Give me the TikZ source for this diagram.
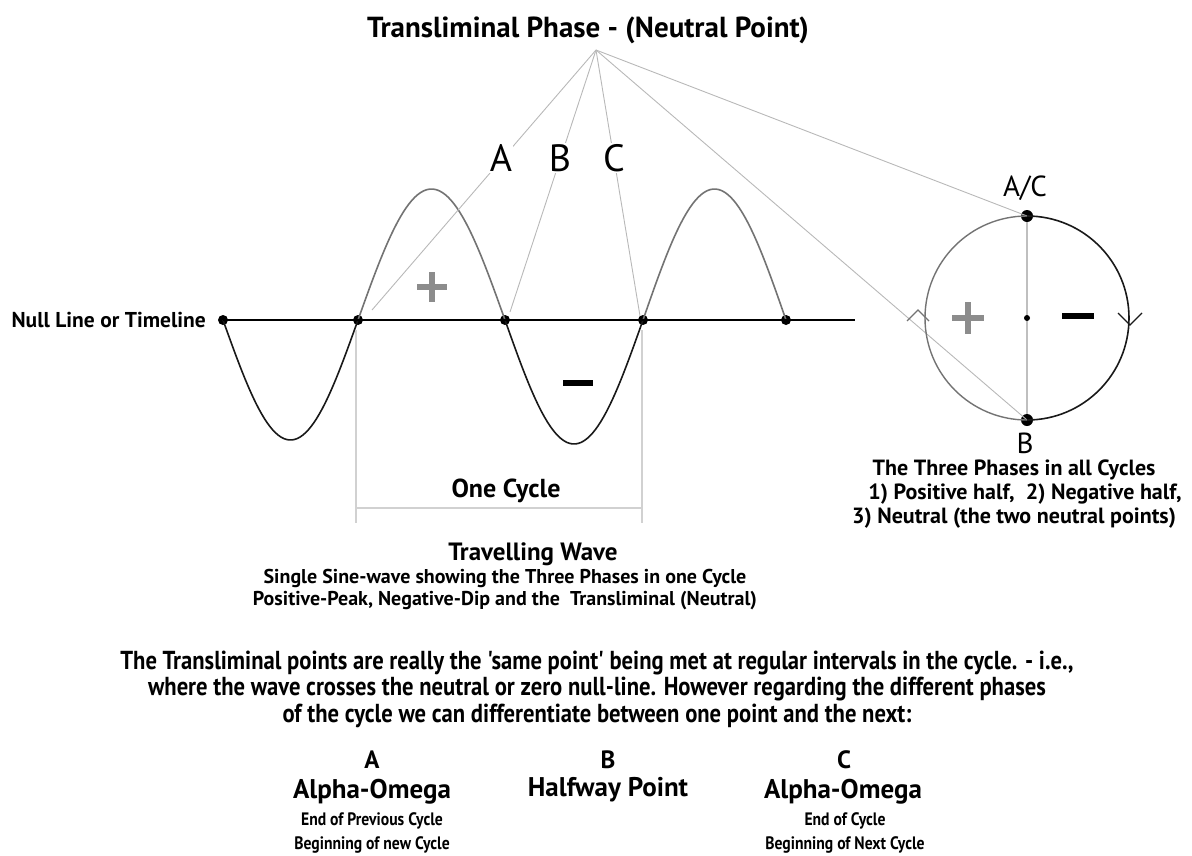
\documentclass[tikz,border=0pt]{standalone}
\usepackage{fontspec}
\setmainfont{PT Sans}
\newfontfamily\condfont[FakeStretch=0.87]{PT Sans}
\begin{document}
\begin{tikzpicture}[x=1pt,y=-1pt,
  dot/.style={circle,fill=black,inner sep=0pt,minimum size=10pt},
  bigdot/.style={circle,fill=black,inner sep=0pt,minimum size=12pt},
  ray/.style={draw=black!28,line width=0.9pt},
  posw/.style={draw=black!55,line width=1.6pt},
  negw/.style={draw=black!90,line width=1.6pt},
  letter/.style={font=\fontsize{38}{42}\selectfont,fill=white,inner sep=1pt},
  capt/.style={font=\fontsize{22}{24}\selectfont\bfseries,align=center},
  subcapt/.style={font=\fontsize{20}{24}\selectfont\bfseries,align=center},
  plusmark/.style={draw=black!45,line width=6pt},
  minusmark/.style={draw=black,line width=6pt},
  bracket/.style={draw=black!18,line width=1.4pt}]
\useasboundingbox (0,0) rectangle (1192,855);

% title
\node[font=\fontsize{29}{34}\selectfont\bfseries] (title) at (588,30) {Transliminal Phase - (Neutral Point)};
\coordinate (apex) at (596,50);

% null line
\node[font=\fontsize{21.5}{24}\selectfont\bfseries,anchor=east,inner sep=0pt] (nulllbl) at (206,320) {Null Line or Timeline};
\coordinate (nullend) at (855,320);
\node[dot] (d1) at (223,320) {};
\node[dot] (d2) at (358,320) {};
\node[dot] (d3) at (505,320) {};
\node[dot] (d4) at (643,320) {};
\node[dot] (d5) at (786,320) {};

% wave
\draw[negw] plot[domain=0:180,samples=50] ({223+0.75*\x},{320+120*sin(\x)});
\draw[posw] plot[domain=0:180,samples=50] ({358+0.81667*\x},{320-131*sin(\x)});
\draw[negw] plot[domain=0:180,samples=50] ({505+0.76667*\x},{320+124*sin(\x)});
\draw[posw] plot[domain=0:180,samples=50] ({643+0.79444*\x},{320-131*sin(\x)});
\draw[draw=black,line width=1.8pt] (d1.center) -- (nullend);

% plus / minus on wave
\draw[plusmark] (417,287) -- (447,287) (432,272) -- (432,302);
\draw[minusmark] (563,383) -- (593,383);

% rays
\coordinate (ea) at (372,310);
\coordinate (eb) at (510,312);
\coordinate (ec) at (640,316);
\draw[ray] (apex) -- (ea);
\draw[ray] (apex) -- (eb);
\draw[ray] (apex) -- (ec);

% circle
\coordinate (cc) at (1027,318);
\node[bigdot] (ctop) at (1027,216) {};
\node[bigdot] (cbot) at (1027,420) {};
\draw[ray] (apex) -- (ctop.center);
\draw[ray] (apex) -- (cbot.center);
\draw[draw=black!55,line width=1.4pt] (cbot.center) arc[start angle=90,end angle=270,radius=102];
\draw[draw=black!90,line width=1.6pt] (ctop.center) arc[start angle=270,end angle=450,radius=102];
\draw[draw=black!25,line width=1.4pt] (ctop) -- (cbot);
\node[circle,fill=black,inner sep=0pt,minimum size=6pt] (cmid) at (cc) {};
\draw[draw=black!55,line width=1.3pt] (907,321) -- (918,310) -- (929,321);
\draw[draw=black!90,line width=1.3pt] (1118,313) -- (1130,325) -- (1142,313);
\draw[plusmark] (952,318) -- (984,318) (968,302) -- (968,334);
\draw[minusmark] (1062,316) -- (1094,316);

% letters
\node[letter] (la) at (501,158) {A};
\node[letter] (lb) at (560,158) {B};
\node[letter] (lc) at (614,158) {C};
\node[font=\fontsize{29}{32}\selectfont] (lac) at (1025,188) {A/C};
\node[font=\fontsize{29}{32}\selectfont] (lbb) at (1025,443) {B};

% circle captions
\node[capt] (c1) at (1014,470) {The Three Phases in all Cycles};
\node[capt] (c2) at (1025,494) {1) Positive half,\ \ 2) Negative half,};
\node[capt] (c3) at (1014,518) {3) Neutral (the two neutral points)};

% one cycle bracket
\coordinate (bl1) at (356,330);
\coordinate (bl2) at (356,523);
\coordinate (br1) at (642,330);
\coordinate (br2) at (642,523);
\coordinate (bh1) at (356,508);
\coordinate (bh2) at (642,508);
\draw[bracket] (bl1) -- (bl2);
\draw[bracket] (br1) -- (br2);
\draw[bracket] (bh1) -- (bh2);
\node[font=\fontsize{26}{28}\selectfont\bfseries] (onecyc) at (506,491) {One Cycle};

% travelling wave
\node[font=\fontsize{25}{28}\selectfont\bfseries] (tw) at (533,554) {Travelling Wave};
\node[subcapt] (tw2) at (505,578) {Single Sine-wave showing the Three Phases in one Cycle};
\node[subcapt] (tw3) at (505,601) {Positive-Peak, Negative-Dip and the\ \ Transliminal (Neutral)};

% paragraph
\node[font=\condfont\fontsize{26}{26.5}\selectfont\bfseries,align=center] (para) at (597,689)
 {The Transliminal points are really the 'same point' being met at regular intervals in the cycle. - i.e.,\\
  where the wave crosses the neutral or zero null-line. However regarding the different phases\\
  of the cycle we can differentiate between one point and the next:};

% A B C explanations
\node[font=\fontsize{25}{28}\selectfont\bfseries] (xa) at (372,760) {A};
\node[font=\fontsize{25}{28}\selectfont\bfseries] (xb) at (608,760) {B};
\node[font=\fontsize{25}{28}\selectfont\bfseries] (xc) at (844,760) {C};
\node[font=\fontsize{27}{30}\selectfont\bfseries] (xa2) at (372,792) {Alpha-Omega};
\node[font=\fontsize{27}{30}\selectfont\bfseries] (xb2) at (608,790) {Halfway Point};
\node[font=\fontsize{27}{30}\selectfont\bfseries] (xc2) at (843,792) {Alpha-Omega};
\node[font=\condfont\fontsize{18}{23.5}\selectfont\bfseries,align=center] (xa3) at (372,833) {End of Previous Cycle\\Beginning of new Cycle};
\node[font=\condfont\fontsize{18}{23.5}\selectfont\bfseries,align=center] (xc3) at (845,833) {End of Cycle\\Beginning of Next Cycle};
\end{tikzpicture}
\end{document}
